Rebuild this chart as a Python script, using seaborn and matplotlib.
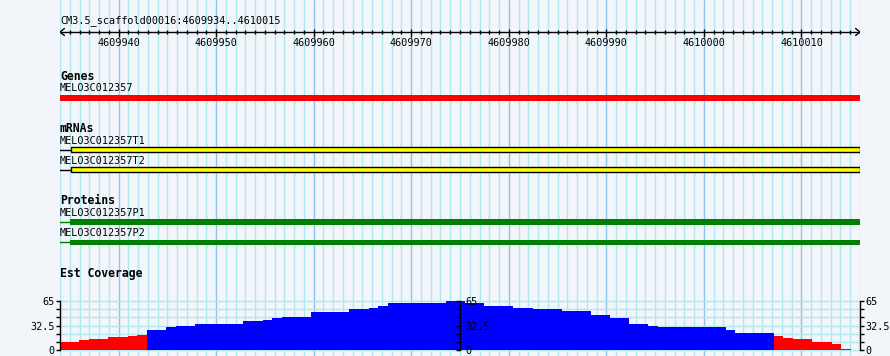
import matplotlib
matplotlib.use("Agg")
import pandas as pd
import matplotlib.pyplot as plt
import seaborn as sns

# region shown in the browser
seq_name = "CM3.5_scaffold00016"
view_start = 4609934
view_end = 4610015
major_ticks = [4609940, 4609950, 4609960, 4609970, 4609980, 4609990, 4610000, 4610010]

# features
gene_names = ["MELO3C012357"]
gene_starts = [4609900]
gene_ends = [4610100]
mrna_names = ["MELO3C012357T1", "MELO3C012357T2"]
mrna_starts = [4609900, 4609900]
mrna_cds_starts = [4609935, 4609935]
mrna_ends = [4610016, 4610016]
protein_names = ["MELO3C012357P1", "MELO3C012357P2"]
protein_starts = [4609900, 4609900]
protein_cds_starts = [4609935, 4609935]
protein_ends = [4610016, 4610016]

# est coverage per base
coverage = [10, 11, 13, 15, 15, 17, 17, 19, 20,
            26, 27, 30, 32, 32, 34, 35, 35, 35, 35, 38, 39, 40, 43, 44, 44, 44,
            50, 50, 51, 51, 54, 54, 56, 59, 62, 62, 62, 63, 63, 63, 65, 65,
            63, 62, 59, 59, 59, 56, 56, 55, 55, 55, 52, 52, 52,
            47, 46, 42, 42, 35, 34, 32, 31, 31, 31, 31, 31, 31, 30, 27, 23, 22, 22, 22,
            19, 16, 15, 15, 11, 11, 8, 1]
cov_max = 65
low_cutoff = 21

bg = "#f2f5fa"
minor_grid = "#ade9ef"
major_grid = "#8cc6ee"

sns.set_style("white")
plt.rcParams["font.family"] = ["DejaVu Sans Mono"]
plt.rcParams["text.color"] = "black"
plt.rcParams["ytick.color"] = "black"
plt.rcParams["ytick.labelcolor"] = "black"
small = 7.3
bold = 8.3

fig = plt.figure(figsize=(8.9, 3.56), dpi=100, facecolor=bg)
W, H = 890, 356
ax = fig.add_axes([60 / W, 0, 800 / W, 1])
ax.set_facecolor("none")
ax.set_xlim(view_start, view_end + 1)
ax.set_ylim(H, 0)
ax.axis("off")

# background grid, one line per base
for g in range(view_start, view_end + 2):
    ax.axvline(g, color=major_grid if g % 10 == 0 else minor_grid, lw=1, zorder=0)

# ruler
ax.text(view_start, 21, f"{seq_name}:{view_start}..{view_end}", fontsize=small,
        ha="left", va="center")
ax.hlines(32, view_start, view_end + 1, color="black", lw=1)
for x0, d in [(view_start, 1), (view_end + 1, -1)]:
    ax.plot([x0 + d * 0.45, x0, x0 + d * 0.45], [28.5, 32, 35.5], color="black", lw=1)
minor_pos = [g for g in range(view_start + 1, view_end + 1) if g not in major_ticks]
ax.vlines(minor_pos, 30, 34, color="black", lw=1)
ax.vlines(major_ticks, 28.5, 36.5, color="black", lw=1)
for t in major_ticks:
    ax.text(t, 43, str(t), fontsize=small, ha="center", va="center")


def track_title(y, s):
    ax.text(view_start, y, s, fontsize=bold, fontweight="bold", ha="left", va="center")


def label(y, s):
    ax.text(view_start, y, s, fontsize=small, ha="left", va="center")


# Genes
track_title(76, "Genes")
for name, s, e in zip(gene_names, gene_starts, gene_ends):
    label(88, name)
    ax.barh(98, e - s, left=s, height=6, color="red", lw=0)

# mRNAs
track_title(128, "mRNAs")
for i, (name, s, c, e) in enumerate(zip(mrna_names, mrna_starts, mrna_cds_starts, mrna_ends)):
    y = 149.7 + 20 * i
    label(141 + 19.5 * i, name)
    ax.hlines(y, s, c + 0.15, color="black", lw=1)
    ax.barh(y, e - c - 0.15, left=c + 0.15, height=4.6, color="#ffff00", edgecolor="black", lw=1)

# Proteins
track_title(200, "Proteins")
for i, (name, s, c, e) in enumerate(zip(protein_names, protein_starts, protein_cds_starts, protein_ends)):
    y = 222 + 20.7 * i
    label(213 + 20.5 * i, name)
    ax.hlines(y - 0.5, s, c, color="green", lw=1)
    ax.barh(y, e - c, left=c, height=5.5, color="green", lw=0)

# Est Coverage
track_title(273, "Est Coverage")
cov = fig.add_axes([60 / W, 6 / H, 791 / W, 49 / H])
cov.set_facecolor("none")
df = pd.DataFrame({"pos": list(range(view_start, view_start + len(coverage))),
                   "cov": coverage})
df["level"] = ["low" if v < low_cutoff else "high" for v in df["cov"]]
sns.histplot(data=df, x="pos", weights="cov", hue="level", binwidth=1,
             binrange=(view_start, view_end + 1), multiple="layer", element="step",
             fill=True, palette={"low": "#ff0000", "high": "#0000ff"}, alpha=1,
             linewidth=0, legend=False, ax=cov)
cov.set_xlim(view_start, view_end + 1)
cov.set_ylim(0, cov_max)
cov.set_xlabel("")
cov.set_ylabel("")
cov.set_xticks([])
minor_levels = [cov_max * k / 6 for k in range(7)]
for v in minor_levels:
    cov.axhline(v, xmin=0, xmax=800 / 791, color=minor_grid, lw=1, zorder=0, clip_on=False)
for sp in ["top", "right", "bottom"]:
    cov.spines[sp].set_visible(False)
cov.spines["left"].set_color("black")
cov.spines["left"].set_linewidth(1)
ticks = [0, cov_max / 2, cov_max]
ticklabels = ["0", "32.5", "65"]
cov.set_yticks(ticks, ticklabels)
cov.set_yticks(minor_levels, minor=True)
cov.tick_params(axis="y", which="both", direction="out", length=3, width=1,
                labelsize=small, pad=1, left=True, colors="black")

# middle and right scale axes
for xpix, tick_left in [(460, True), (860, False)]:
    sa = fig.add_axes([xpix / W, 6 / H, 0.0001, 49 / H], zorder=5)
    sa.set_facecolor("none")
    sa.set_ylim(0, cov_max)
    sa.set_xticks([])
    for sp in ["top", "right", "bottom"]:
        sa.spines[sp].set_visible(False)
    sa.spines["left"].set_color("black")
    sa.spines["left"].set_linewidth(1)
    sa.set_yticks(ticks, ticklabels)
    sa.set_yticks(minor_levels, minor=True)
    sa.tick_params(axis="y", which="both", direction="out", length=3, width=1,
                   labelsize=small, left=tick_left, right=not tick_left,
                   labelleft=False, labelright=True, pad=1, colors="black")

fig.savefig("out.png", dpi=100, facecolor=bg)
